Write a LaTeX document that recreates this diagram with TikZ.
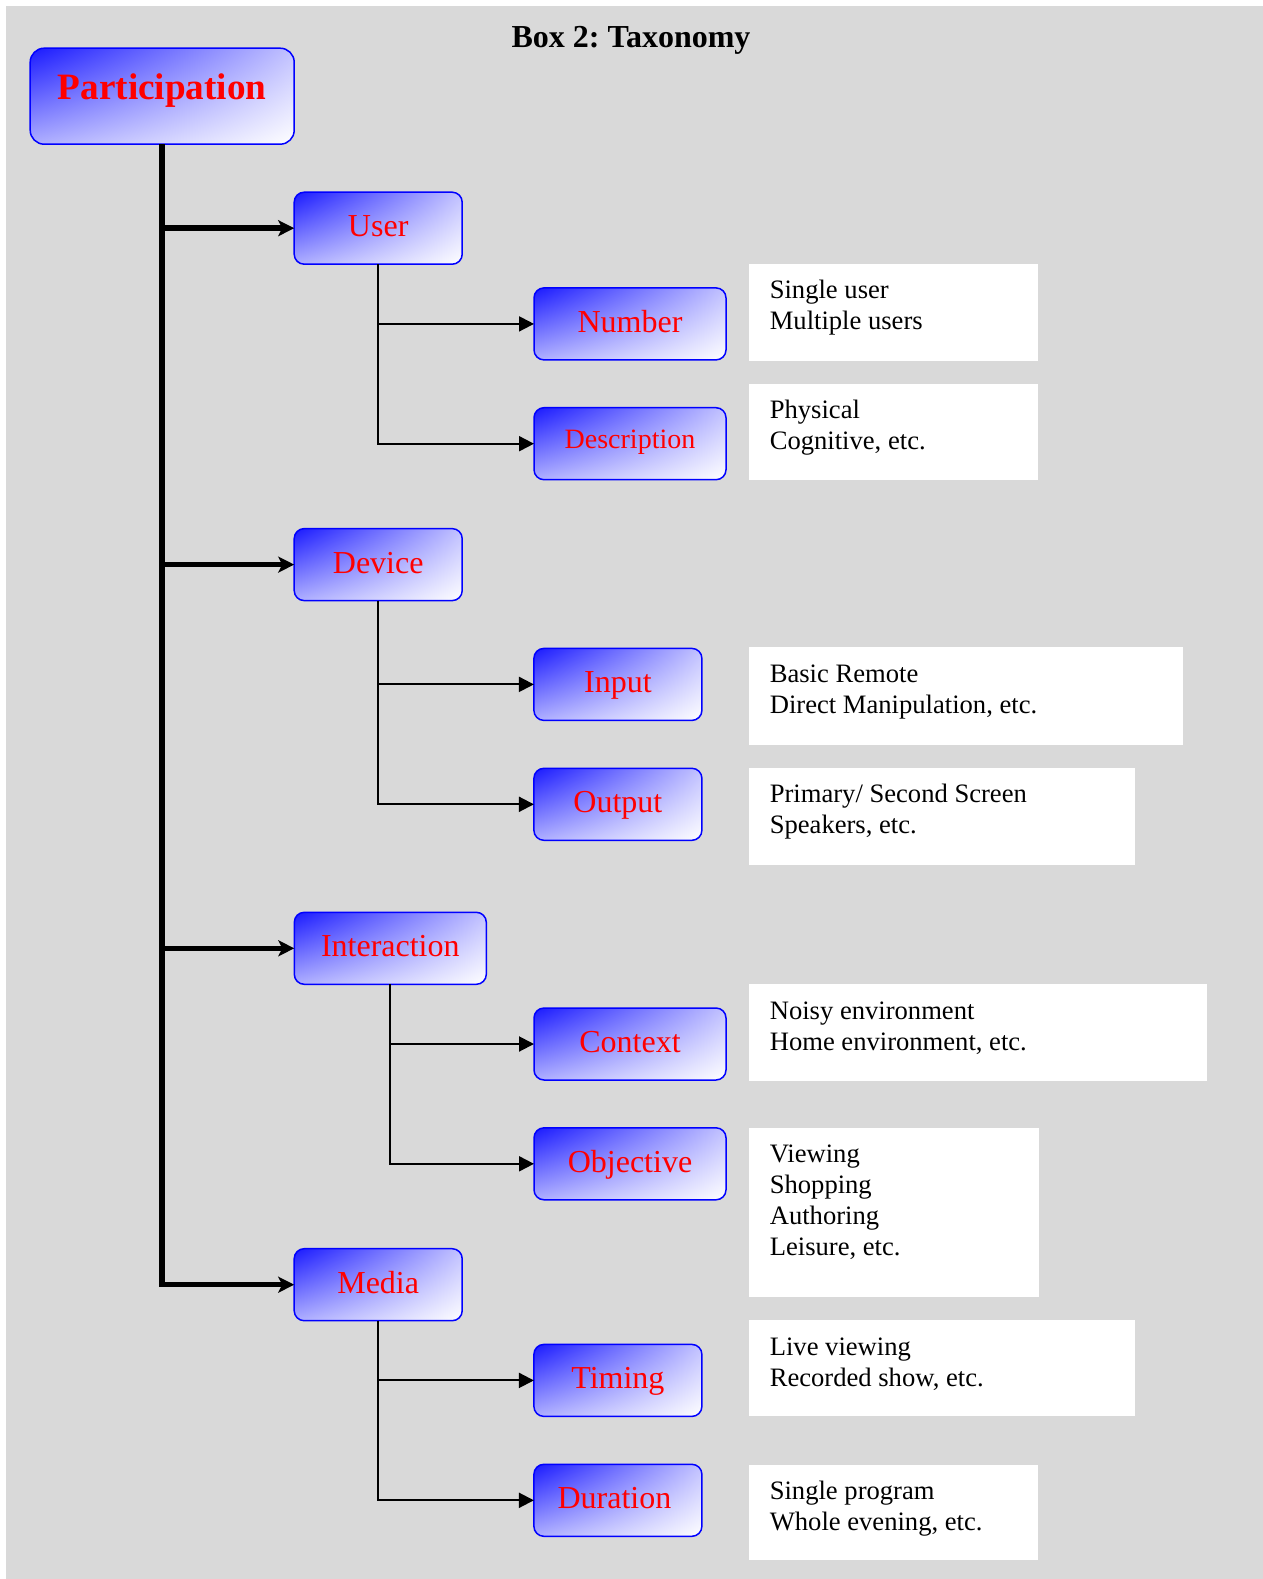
\documentclass[tikz,border=0pt]{standalone}
\usepackage{fontspec}
\setmainfont{Liberation Serif}
\usetikzlibrary{arrows.meta,shadings}
\definecolor{bggray}{RGB}{217,217,217}
\frenchspacing
\begin{document}
\begin{tikzpicture}[x=0.5pt,y=-0.5pt,
  gradbox/.style={draw=blue, line width=0.75pt, inner sep=0pt, outer sep=0pt,
    upper left=blue!90!white, upper right=blue!24!white,
    lower left=blue!32!white, lower right=white, text=red},
  rootbox/.style={gradbox, rounded corners=7pt, minimum width=132pt, minimum height=48pt,
    font=\bfseries\fontsize{18.6}{22}\selectfont, text height=12pt, text depth=8.9pt},
  catbox/.style={gradbox, rounded corners=5pt, minimum height=36pt,
    font=\fontsize{16}{19}\selectfont, text height=11.5pt, text depth=3pt},
  wA/.style={minimum width=84pt},
  wB/.style={minimum width=96pt},
  descbox/.style={fill=white, inner sep=0pt, outer sep=0pt, anchor=north west},
  desctext/.style={anchor=base west, inner sep=0pt, font=\fontsize{13.3}{15.5}\selectfont},
  spinearrow/.style={line width=2.75pt, -{Stealth[length=8pt,width=8pt,inset=2pt]}},
  subarrow/.style={line width=1pt, -{Triangle[length=7.5pt,width=7.5pt]}}
]
\useasboundingbox (0,0) rectangle (1263,1579);
\fill[bggray] (6,6) rectangle (1263,1579);

\node[font=\bfseries\fontsize{16}{19}\selectfont, anchor=base, inner sep=0pt] (title) at (631,47) {Box 2: Taxonomy};

% category nodes
\node[rootbox] (part) at (162.2,96.2) {Participation};
\node[catbox,wA] (user) at (378.2,228.2) {User};
\node[catbox,wB] (number) at (630,323.9) {Number};
\node[catbox,wB,font=\fontsize{14}{17}\selectfont, text height=10pt, text depth=5.4pt] (descr) at (630,443.7) {Description};
\node[catbox,wA] (device) at (378.2,564.6) {Device};
\node[catbox,wA] (input) at (617.9,684.4) {Input};
\node[catbox,wA] (output) at (617.9,804.3) {Output};
\node[catbox,wB] (inter) at (390.3,948.3) {Interaction};
\node[catbox,wB] (context) at (630,1044) {Context};
\node[catbox,wB] (objective) at (630,1163.8) {Objective};
\node[catbox,wA] (media) at (378.2,1284.7) {Media};
\node[catbox,wA] (timing) at (617.9,1380.4) {Timing};
\node[catbox,wA] (duration) at (617.9,1500.3) {\hspace*{-3.5pt}Duration};

% description boxes
\node[descbox, minimum width=144.5pt, minimum height=48.35pt] (d1) at (749.4,263.9) {};
\node[descbox, minimum width=144.5pt, minimum height=48.35pt] (d2) at (749.4,383.7) {};
\node[descbox, minimum width=216.7pt, minimum height=48.6pt] (d3) at (749.4,647.4) {};
\node[descbox, minimum width=192.8pt, minimum height=48.6pt] (d4) at (749.4,767.9) {};
\node[descbox, minimum width=228.9pt, minimum height=48.35pt] (d5) at (749.4,984) {};
\node[descbox, minimum width=144.8pt, minimum height=84.3pt] (d6) at (749.4,1128) {};
\node[descbox, minimum width=192.8pt, minimum height=47.85pt] (d7) at (749.4,1320.4) {};
\node[descbox, minimum width=144.5pt, minimum height=47.85pt] (d8) at (749.4,1464.5) {};

\node[desctext] (t1) at ([shift={(20,35)}]d1.north west) {\begin{tabular}[t]{@{}l@{}}Single user\\Multiple users\end{tabular}};
\node[desctext] (t2) at ([shift={(20,35)}]d2.north west) {\begin{tabular}[t]{@{}l@{}}Physical\\Cognitive, etc.\end{tabular}};
\node[desctext] (t3) at ([shift={(20,35)}]d3.north west) {\begin{tabular}[t]{@{}l@{}}Basic Remote\\Direct Manipulation, etc.\end{tabular}};
\node[desctext] (t4) at ([shift={(20,35)}]d4.north west) {\begin{tabular}[t]{@{}l@{}}Primary/ Second Screen\\Speakers, etc.\end{tabular}};
\node[desctext] (t5) at ([shift={(20,35)}]d5.north west) {\begin{tabular}[t]{@{}l@{}}Noisy environment\\Home environment, etc.\end{tabular}};
\node[desctext] (t6) at ([shift={(20,34)}]d6.north west) {\begin{tabular}[t]{@{}l@{}}Viewing\\Shopping\\Authoring\\Leisure, etc.\end{tabular}};
\node[desctext] (t7) at ([shift={(20,35)}]d7.north west) {\begin{tabular}[t]{@{}l@{}}Live viewing\\Recorded show, etc.\end{tabular}};
\node[desctext] (t8) at ([shift={(20,35)}]d8.north west) {\begin{tabular}[t]{@{}l@{}}Single program\\Whole evening, etc.\end{tabular}};

% spine
\draw[spinearrow, line join=miter] (part.south) -- (part.south |- media.west) -- (media.west);
\draw[spinearrow] (part.south |- user.west) -- (user.west);
\draw[spinearrow] (part.south |- device.west) -- (device.west);
\draw[spinearrow] (part.south |- inter.west) -- (inter.west);

% sub connectors
\draw[subarrow] (user.south) |- (number.west);
\draw[subarrow] (user.south) |- (descr.west);
\draw[subarrow] (device.south) |- (input.west);
\draw[subarrow] (device.south) |- (output.west);
\draw[subarrow] (inter.south) |- (context.west);
\draw[subarrow] (inter.south) |- (objective.west);
\draw[subarrow] (media.south) |- (timing.west);
\draw[subarrow] (media.south) |- (duration.west);
\end{tikzpicture}
\end{document}
